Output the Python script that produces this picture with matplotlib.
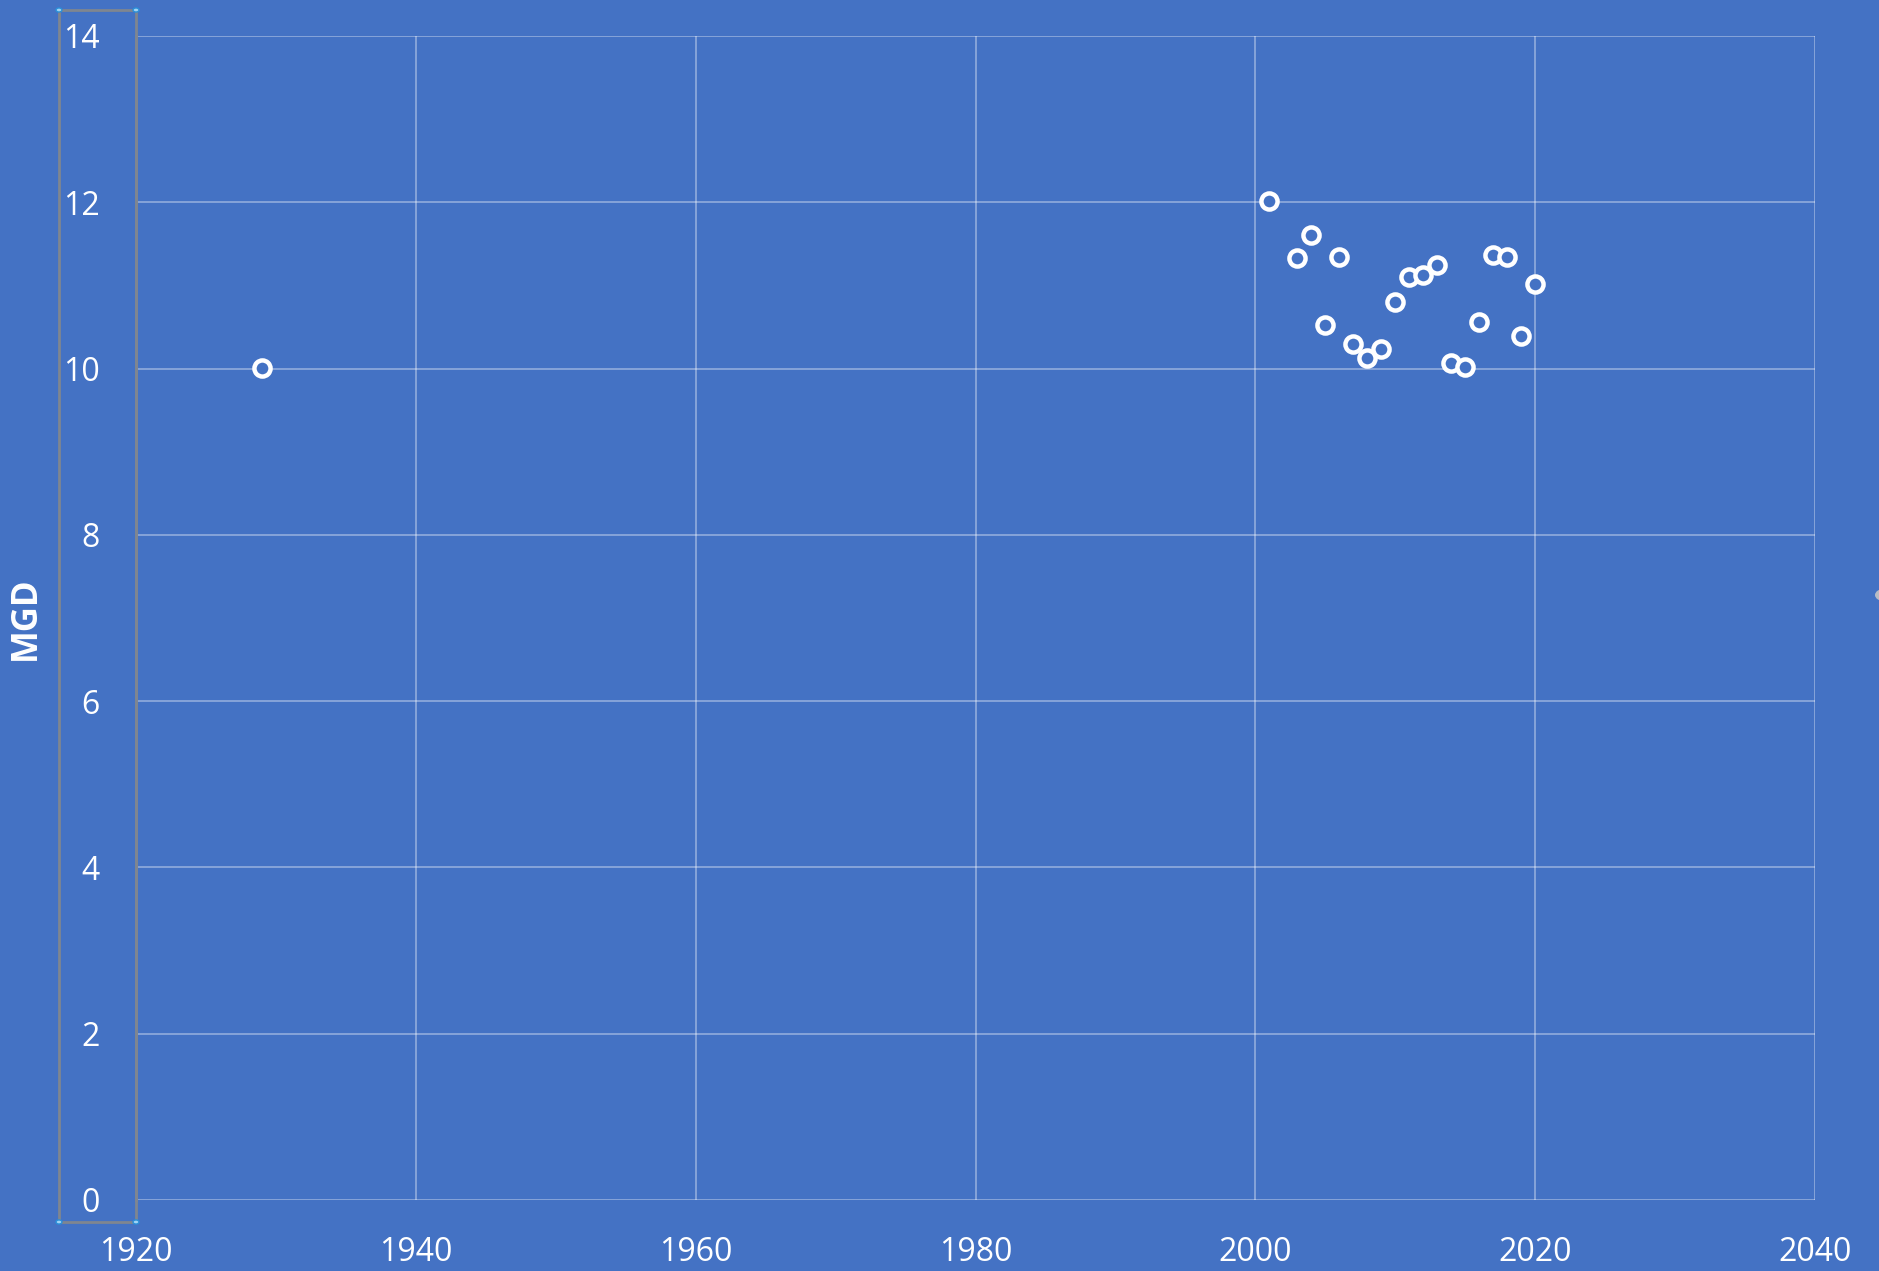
import matplotlib
matplotlib.use("Agg")
import matplotlib.pyplot as plt
from matplotlib.patches import Rectangle, Circle

# data
years = [1929, 2001, 2003, 2004, 2005, 2006, 2007, 2008, 2009, 2010,
         2011, 2012, 2013, 2014, 2015, 2016, 2017, 2018, 2019, 2020]
mgd = [10.01, 12.02, 11.33, 11.61, 10.52, 11.34, 10.29, 10.13, 10.23, 10.80,
       11.10, 11.12, 11.24, 10.07, 10.02, 10.56, 11.37, 11.34, 10.39, 11.02]
x_ticks = [1920, 1940, 1960, 1980, 2000, 2020, 2040]
y_ticks = [0, 2, 4, 6, 8, 10, 12, 14]

BG = "#4472C4"
W, H = 1879, 1271
DPI = 100

plt.rcParams["font.family"] = ["Open Sans", "DejaVu Sans"]

fig = plt.figure(figsize=(W / DPI, H / DPI), dpi=DPI, facecolor=BG)
# plot area in pixels: left 136, right 1815, top 36, bottom 1200
ax = fig.add_axes([136 / W, 1 - 1200 / H, (1815 - 136) / W, (1200 - 36) / H])
ax.set_facecolor(BG)

ax.scatter(years, mgd, s=135, facecolors=BG, edgecolors="white",
           linewidths=3.2, zorder=3)

ax.set_xlim(1920, 2040)
ax.set_ylim(0, 14)
ax.set_xticks(x_ticks)
ax.set_yticks(y_ticks)
ax.grid(True, color="white", alpha=0.38, linewidth=1.3)
ax.set_axisbelow(True)
for side in ["top", "right", "bottom"]:
    ax.spines[side].set_visible(False)
ax.spines["left"].set_color("#7f8690")
ax.spines["left"].set_linewidth(2)

ax.tick_params(axis="both", length=0, labelcolor="white", labelsize=23)
ax.tick_params(axis="y", pad=26)
ax.tick_params(axis="x", pad=26)

ax.set_ylabel("MGD", color="white", fontsize=25, fontweight="bold")
ax.yaxis.set_label_coords(-92 / (1815 - 136), 0.5)

# selection frame around the vertical axis, as in the screenshot
fx = lambda px: px / W
fy = lambda py: 1 - py / H
frame = Rectangle((fx(59), fy(1222)), fx(136) - fx(59), fy(10) - fy(1222),
                  transform=fig.transFigure, fill=False,
                  edgecolor="#7f8690", linewidth=2, zorder=5)
fig.add_artist(frame)
for px, py in [(59, 10), (136, 10), (59, 1222), (136, 1222)]:
    fig.add_artist(Circle((fx(px), fy(py)), 3 / W, transform=fig.transFigure,
                          facecolor="#9fd3f5", edgecolor="#2a8fd8",
                          linewidth=1, zorder=6))
# partial handle at the right edge
fig.add_artist(Circle((fx(1884), fy(595)), 9 / W, transform=fig.transFigure,
                      facecolor="#b8bcc4", edgecolor="none", zorder=6))

fig.savefig("out.png", dpi=DPI, facecolor=BG)
